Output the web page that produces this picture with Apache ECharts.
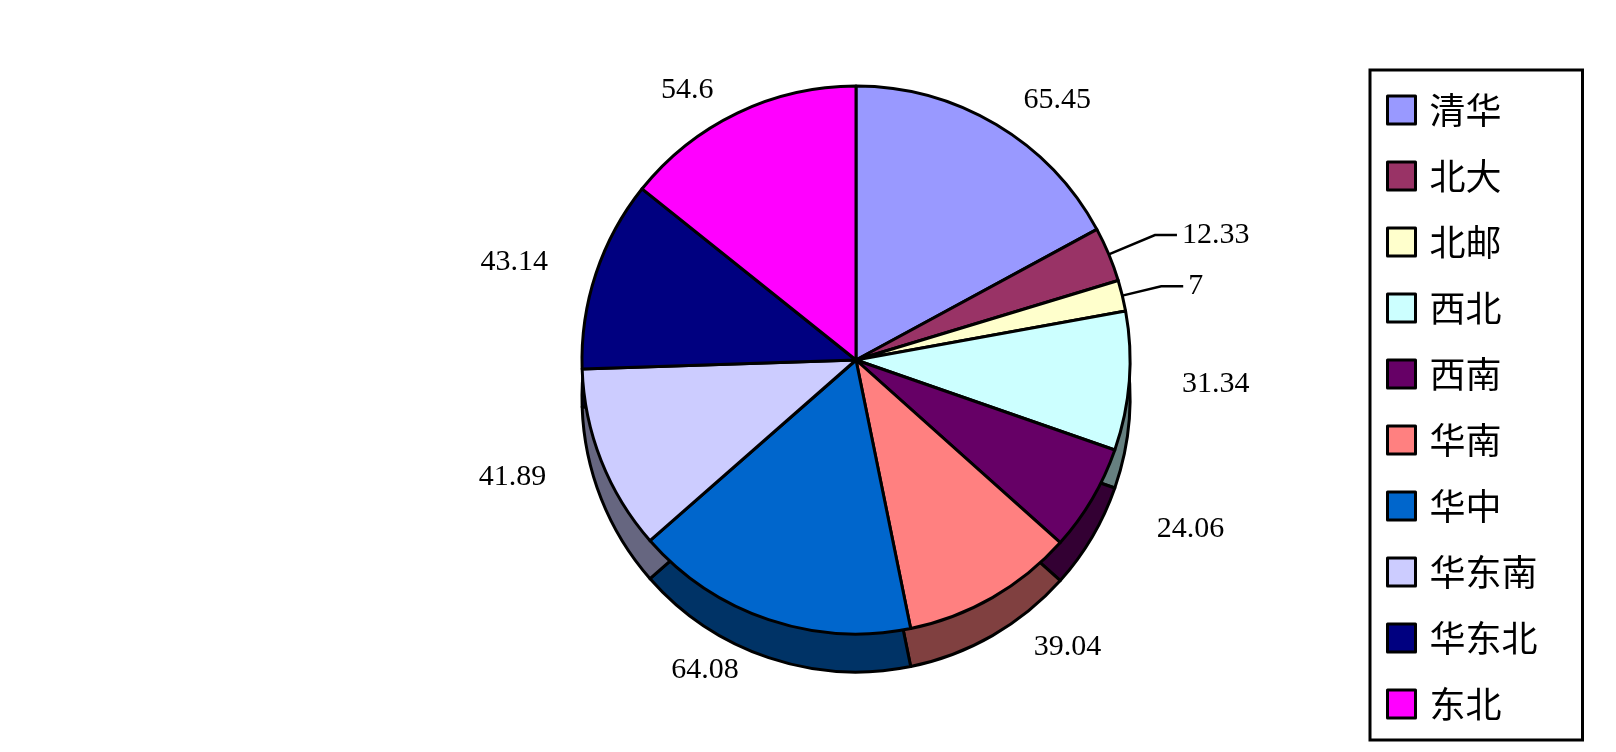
<!DOCTYPE html>
<html>
<head>
<meta charset="utf-8">
<script src="https://cdn.jsdelivr.net/npm/echarts@6/dist/echarts.min.js"></script>
<style>
  html, body { margin: 0; padding: 0; background: #fff; }
  #main { width: 1616px; height: 752px; }
</style>
</head>
<body>
<div id="main"></div>
<script>
// 数据
var schools = ['清华', '北大', '北邮', '西北', '西南', '华南', '华中', '华东南', '华东北', '东北'];
var values = [65.45, 12.33, 7, 31.34, 24.06, 39.04, 64.08, 41.89, 43.14, 54.6];
// 顶面颜色 和 侧面颜色
var topColors = ['#9999FF', '#993366', '#FFFFCC', '#CCFFFF', '#660066', '#FF8080', '#0066CC', '#CCCCFF', '#000080', '#FF00FF'];
var sideColors = ['#4D4D80', '#4D1A33', '#808066', '#668080', '#330033', '#804040', '#003366', '#666680', '#000040', '#800080'];
// 标签引导线长度（下半部分要越过侧面）
var labelLen = [28, 50, 40, 40, 60, 57, 53, 45, 37, 25];
// 有引导线的小扇区
var withLine = ['北大', '北邮'];

var chart = echarts.init(document.getElementById('main'));

var topData = schools.map(function (name, i) {
    var lined = withLine.indexOf(name) >= 0;
    return {
        name: name,
        value: values[i],
        itemStyle: { color: topColors[i] },
        labelLine: {
            show: lined,
            length: labelLen[i],
            length2: lined ? 22 : 8
        }
    };
});

var sideData = schools.map(function (name, i) {
    return { name: name, value: values[i], itemStyle: { color: sideColors[i] } };
});

var option = {
    backgroundColor: '#fff',
    animation: false,
    legend: {
        orient: 'vertical',
        left: 1370,
        top: 70,
        data: schools,
        selectedMode: false,
        backgroundColor: '#fff',
        borderColor: '#000',
        borderWidth: 3,
        padding: [22, 45, 18, 16],
        itemWidth: 28,
        itemHeight: 28,
        itemGap: 30,
        icon: 'rect',
        itemStyle: { borderColor: '#000', borderWidth: 3 },
        textStyle: {
            fontFamily: 'Noto Sans CJK SC',
            fontSize: 36,
            lineHeight: 36,
            color: '#000',
            padding: [0, 0, 0, 9]
        }
    },
    series: [{
        // 顶面
        name: '顶面',
        type: 'pie',
        z: 3,
        center: [856, 360],
        radius: [0, 274],
        startAngle: 90,
        clockwise: true,
        avoidLabelOverlap: false,
        itemStyle: { borderColor: '#000', borderWidth: 3 },
        label: {
            show: true,
            position: 'outside',
            formatter: '{c}',
            color: '#000',
            fontFamily: 'Liberation Serif',
            fontSize: 30
        },
        labelLine: {
            lineStyle: { color: '#000', width: 2.5 }
        },
        emphasis: { disabled: true },
        data: topData
    }, {
        // 侧面（向下平移）
        name: '侧面',
        type: 'pie',
        z: 1,
        center: [856, 398],
        radius: [0, 274],
        startAngle: 90,
        clockwise: true,
        silent: true,
        itemStyle: { borderColor: '#000', borderWidth: 3 },
        label: { show: false },
        labelLine: { show: false },
        emphasis: { disabled: true },
        data: sideData
    }]
};

chart.setOption(option);
</script>
</body>
</html>
